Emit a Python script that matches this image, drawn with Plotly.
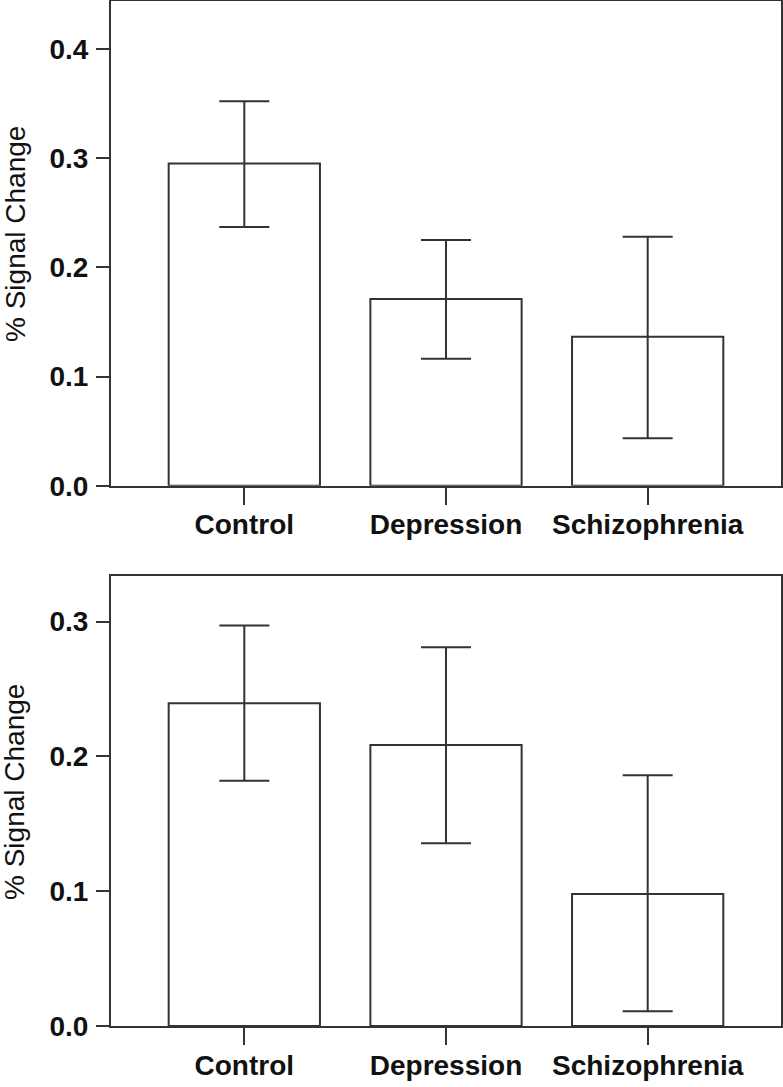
import plotly.graph_objects as go

categories = ["Control", "Depression", "Schizophrenia"]

# Panel 1 (top)
top_values = [0.295, 0.171, 0.1365]
top_err_plus = [0.057, 0.054, 0.0915]
top_err_minus = [0.058, 0.0547, 0.093]

# Panel 2 (bottom)
bottom_values = [0.2394, 0.2085, 0.098]
bottom_err_plus = [0.0576, 0.0725, 0.088]
bottom_err_minus = [0.0574, 0.073, 0.087]

top_ticks = [0.0, 0.1, 0.2, 0.3, 0.4]
bottom_ticks = [0.0, 0.1, 0.2, 0.3]
y_title = "% Signal Change"

LINE = "#333333"
FONT = "Arial, Liberation Sans, sans-serif"
W, H = 783, 1087

fig = go.Figure()

def add_bars(vals, ep, em, xa, ya):
    fig.add_trace(go.Bar(
        x=categories, y=vals, width=0.75,
        marker=dict(color="white", line=dict(color=LINE, width=2)),
        error_y=dict(type="data", symmetric=False, array=ep, arrayminus=em,
                     color=LINE, thickness=2, width=25),
        xaxis=xa, yaxis=ya, showlegend=False))

add_bars(top_values, top_err_plus, top_err_minus, "x", "y")
add_bars(bottom_values, bottom_err_plus, bottom_err_minus, "x2", "y2")

xcommon = dict(
    type="category", range=[-0.661, 2.661], domain=[111 / W, 781 / W],
    showline=True, linecolor=LINE, linewidth=2, mirror=True,
    ticks="outside", ticklen=17, tickwidth=2, tickcolor=LINE,
    tickfont=dict(family=FONT, size=28, color="#111111", weight="bold"),
    showgrid=False, zeroline=False, ticklabelstandoff=-4, automargin=False,
)
ycommon = dict(
    showline=True, linecolor=LINE, linewidth=2, mirror=True,
    ticks="outside", ticklen=13, tickwidth=2, tickcolor=LINE,
    tickfont=dict(family=FONT, size=28, color="#111111", weight="bold"),
    tickformat=".1f", showgrid=False, zeroline=False, ticklabelstandoff=2,
    automargin=False,
)

fig.update_layout(
    width=W, height=H,
    margin=dict(l=0, r=0, t=0, b=0, autoexpand=False),
    paper_bgcolor="white", plot_bgcolor="white",
    xaxis=dict(**xcommon, anchor="y"),
    xaxis2=dict(**xcommon, anchor="y2"),
    yaxis=dict(**ycommon, anchor="x", range=[0, 0.4439], tickvals=top_ticks,
               domain=[(H - 485.7) / H, (H - 1) / H]),
    yaxis2=dict(**ycommon, anchor="x2", range=[0, 0.3338], tickvals=bottom_ticks,
                domain=[(H - 1026) / H, (H - 576) / H]),
    annotations=[
        dict(text=y_title, textangle=-90, x=15 / W, y=(H - 234) / H,
             xref="paper", yref="paper", xanchor="center", yanchor="middle",
             showarrow=False, font=dict(family=FONT, size=28, color="#111111")),
        dict(text=y_title, textangle=-90, x=15 / W, y=(H - 792) / H,
             xref="paper", yref="paper", xanchor="center", yanchor="middle",
             showarrow=False, font=dict(family=FONT, size=28, color="#111111")),
    ],
)

fig.write_html("out.html", config={"displayModeBar": False},
               post_script="document.body.style.margin='0';")
